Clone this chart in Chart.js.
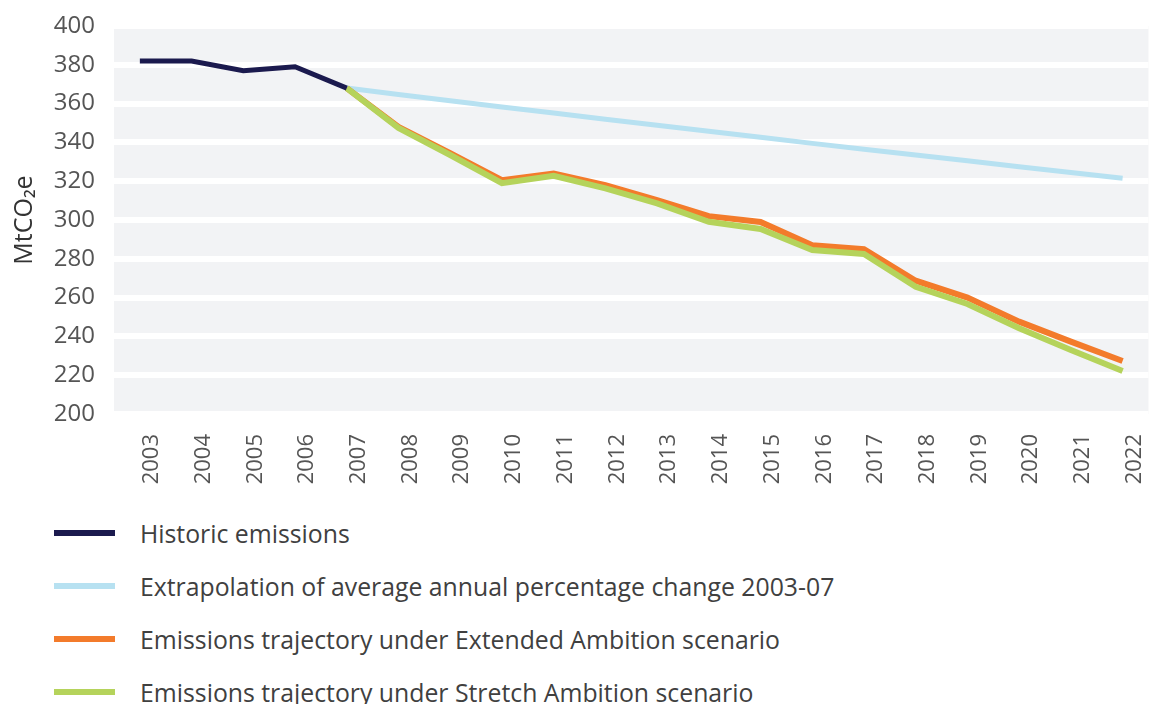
<!DOCTYPE html>
<html>
<head>
<meta charset="utf-8">
<script src="https://cdn.jsdelivr.net/npm/chart.js@4/dist/chart.umd.min.js"></script>
<style>
  html, body { margin: 0; padding: 0; background: #fff; }
  body { width: 1161px; height: 704px; position: relative; overflow: hidden; font-family: 'Open Sans', 'Noto Sans', sans-serif; }
  #wrap { position: absolute; left: 0; top: 0; width: 1161px; height: 490px; }
  #legend { position: absolute; left: 54px; top: 506px; }
  .item { height: 53px; display: flex; align-items: center; }
  .swatch { width: 61px; height: 6px; margin-right: 25px; }
  .label { font-size: 24.8px; color: #404040; white-space: nowrap; }
</style>
</head>
<body>
<div id="wrap"><canvas id="chart"></canvas></div>
<div id="legend"></div>
<script>
const years = ['2003','2004','2005','2006','2007','2008','2009','2010','2011','2012','2013','2014','2015','2016','2017','2018','2019','2020','2021','2022']

const historic = [382, 382, 377, 379, 368, null, null, null, null, null, null, null, null, null, null, null, null, null, null, null]
const extrapolation = [null, null, null, null, 368, 364.7, 361.5, 358.3, 355.1, 351.9, 348.8, 345.7, 342.6, 339.5, 336.5, 333.5, 330.5, 327.5, 324.5, 321.5]
const extended = [null, null, null, null, 368, 348, 334.5, 320.5, 324, 318, 310.3, 302, 299, 287, 285, 268.7, 260, 247.6, 237.3, 227.3]
const stretch = [null, null, null, null, 368, 347.5, 333.5, 319, 322.8, 316.3, 308.6, 299.1, 295.4, 284.5, 282.5, 265.6, 256.7, 244.2, 233, 222.2]

const seriesLabels = [
  'Historic emissions',
  'Extrapolation of average annual percentage change 2003-07',
  'Emissions trajectory under Extended Ambition scenario',
  'Emissions trajectory under Stretch Ambition scenario'
]
const seriesColors = ['#1b1a4e', '#b7e1f1', '#f37b2b', '#b5d35b']

// grey plot background behind the white grid lines
const plotBg = {
  id: 'plotBg',
  beforeDraw(chart) {
    const { ctx, chartArea: a } = chart
    ctx.save()
    ctx.fillStyle = '#f2f3f5'
    ctx.fillRect(a.left, a.top, a.right - a.left, a.bottom - a.top)
    ctx.restore()
  }
}

const fontFamily = "'Open Sans', 'Noto Sans', sans-serif"

new Chart(document.getElementById('chart'), {
  type: 'line',
  data: {
    labels: years,
    datasets: [
      { label: seriesLabels[0], data: historic, borderColor: seriesColors[0], borderWidth: 5, order: 0 },
      { label: seriesLabels[1], data: extrapolation, borderColor: seriesColors[1], borderWidth: 5, order: 3 },
      { label: seriesLabels[2], data: extended, borderColor: seriesColors[2], borderWidth: 6, order: 2 },
      { label: seriesLabels[3], data: stretch, borderColor: seriesColors[3], borderWidth: 6, order: 1 }
    ]
  },
  options: {
    responsive: true,
    maintainAspectRatio: false,
    animation: false,
    layout: { padding: { top: 26, right: 0, bottom: 0, left: 0 } },
    elements: {
      point: { radius: 0 },
      line: { tension: 0, borderJoinStyle: 'miter', borderCapStyle: 'butt' }
    },
    plugins: {
      legend: { display: false },
      tooltip: { enabled: false }
    },
    scales: {
      x: {
        offset: true,
        grid: { display: false },
        border: { display: false },
        ticks: {
          color: '#555',
          font: { family: fontFamily, size: 22 },
          minRotation: 90,
          maxRotation: 90,
          padding: 12,
          labelOffset: 12,
          autoSkip: false
        },
        afterFit(scale) { scale.height = 76 }
      },
      y: {
        min: 200,
        max: 400,
        grid: { color: '#ffffff', lineWidth: 6, drawTicks: false },
        border: { display: false },
        ticks: {
          stepSize: 20,
          color: '#555',
          font: { family: fontFamily, size: 24 },
          padding: 19
        },
        title: {
          display: true,
          text: 'MtCO₂e',
          color: '#333',
          font: { family: fontFamily, size: 25 },
          padding: { top: 10, bottom: 0 }
        },
        afterFit(scale) {
          scale.width = 114
          scale.paddingTop = 0
          scale.paddingBottom = 0
        }
      }
    }
  },
  plugins: [plotBg]
})

// legend, one entry per row, from the same labels and colours
const legend = document.getElementById('legend')
seriesLabels.forEach((text, i) => {
  const row = document.createElement('div')
  row.className = 'item'
  const sw = document.createElement('div')
  sw.className = 'swatch'
  sw.style.background = seriesColors[i]
  const lb = document.createElement('span')
  lb.className = 'label'
  lb.textContent = text
  row.appendChild(sw)
  row.appendChild(lb)
  legend.appendChild(row)
})
</script>
</body>
</html>
